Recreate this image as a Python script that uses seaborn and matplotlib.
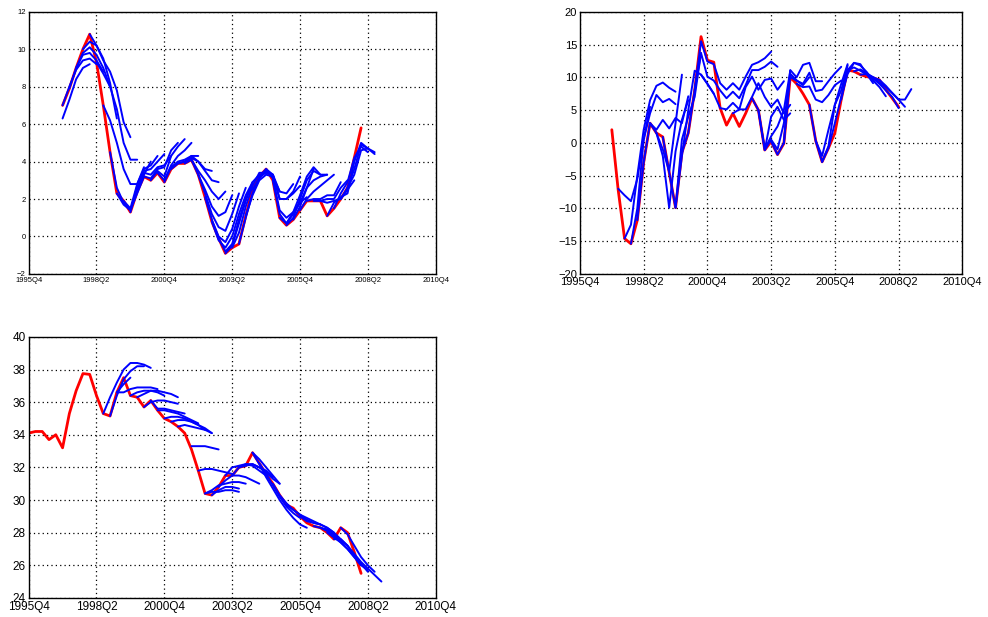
import numpy as np
import pandas as pd
import matplotlib
matplotlib.use("Agg")
import matplotlib.pyplot as plt
import seaborn as sns

# quarter index: 0 = 1995Q4, 10 = 1998Q2, ... 60 = 2010Q4
tick_pos = [0, 10, 20, 30, 40, 50, 60]
tick_labels = ["1995Q4", "1998Q2", "2000Q4", "2003Q2", "2005Q4", "2008Q2", "2010Q4"]

# ---- panel 1 (top left) ----
p1_start = 5
p1_actual = [7.0, 7.9, 9.0, 10.0, 10.8, 9.3, 7.0, 4.5, 2.3, 1.9, 1.3, 2.4, 3.2, 3.0, 3.4,
             2.9, 3.6, 3.9, 3.9, 4.1, 3.3, 2.1, 0.8, -0.1, -0.9, -0.6, -0.4, 1.1, 2.5, 3.2,
             3.6, 3.0, 1.0, 0.6, 0.9, 1.4, 1.9, 1.9, 1.9, 1.1, 1.5, 2.0, 2.6, 4.2, 5.8]
p1_fc = [
    (5, [6.3, 7.3, 8.4, 9.0, 9.2]),
    (5, [7.0, 8.0, 8.9, 9.4, 9.5, 9.2]),
    (6, [7.9, 9.0, 9.7, 9.8, 9.4, 8.8]),
    (7, [9.0, 9.8, 10.1, 9.7, 9.0, 8.0]),
    (8, [10.0, 10.4, 10.2, 9.5, 8.2, 6.3]),
    (9, [10.8, 10.2, 9.4, 8.8, 7.8, 6.1, 5.3]),
    (10, [9.3, 8.7, 8.0, 6.8, 5.0, 4.1, 4.1]),
    (11, [7.0, 6.2, 5.0, 3.6, 2.8, 2.8, 3.7]),
    (12, [4.5, 2.6, 1.8, 1.4, 2.3, 3.2]),
    (13, [2.3, 1.7, 1.4, 2.6, 3.3, 4.0]),
    (14, [1.9, 1.5, 2.8, 3.6, 3.8, 4.3]),
    (15, [1.3, 2.7, 3.5, 3.6, 4.0, 4.4]),
    (16, [2.4, 3.4, 3.3, 3.7, 3.8, 4.3]),
    (17, [3.2, 3.1, 3.6, 3.7, 4.6, 5.0]),
    (18, [3.0, 3.5, 3.2, 4.3, 4.8, 5.2]),
    (19, [3.4, 3.0, 3.8, 4.3, 4.6, 5.0]),
    (20, [2.9, 3.7, 4.0, 4.1, 4.3, 4.3]),
    (21, [3.6, 3.9, 4.0, 4.3, 4.0, 3.6, 3.5]),
    (22, [3.9, 4.0, 4.2, 4.0, 3.5, 3.0, 2.9]),
    (23, [3.9, 4.1, 3.5, 3.0, 2.4, 2.0, 2.4]),
    (24, [4.1, 3.3, 2.5, 1.6, 1.1, 1.3, 2.2]),
    (25, [3.3, 2.3, 1.2, 0.5, 0.3, 1.2, 2.3]),
    (26, [2.1, 0.9, 0.0, -0.3, 0.4, 1.6, 2.6]),
    (27, [0.8, -0.2, -0.6, 0.0, 1.2, 2.2, 2.9]),
    (28, [-0.1, -0.8, -0.4, 0.9, 2.0, 2.8]),
    (29, [-0.9, -0.5, 0.7, 1.9, 2.9, 3.3]),
    (30, [-0.6, 0.2, 1.6, 2.7, 3.4, 3.4]),
    (31, [-0.4, 1.0, 2.3, 3.2, 3.4, 3.3, 2.4]),
    (32, [1.1, 2.2, 3.0, 3.3, 3.2, 2.4, 2.3, 2.8]),
    (33, [2.5, 3.1, 3.5, 3.3, 2.0, 2.0, 2.4, 3.2]),
    (34, [3.2, 3.6, 3.3, 2.0, 2.0, 2.3, 2.7]),
    (35, [3.6, 3.1, 1.4, 1.0, 1.3, 1.8, 2.1]),
    (36, [3.0, 1.2, 0.7, 1.2, 1.8, 2.6, 3.6]),
    (37, [1.0, 0.7, 1.3, 2.2, 3.2, 3.7, 3.3]),
    (38, [0.6, 1.0, 2.0, 3.0, 3.5, 3.3, 3.3]),
    (39, [0.9, 1.6, 2.6, 3.0, 3.2, 3.3]),
    (40, [1.4, 2.0, 2.4, 2.7, 3.0, 3.3]),
    (41, [1.9, 2.0, 2.0, 2.2, 2.2, 2.9]),
    (42, [1.9, 1.9, 2.0, 2.0, 2.6, 3.0]),
    (43, [1.9, 1.8, 1.9, 2.0, 2.5, 3.0]),
    (44, [1.1, 1.8, 2.1, 2.3, 4.0, 5.0, 4.7]),
    (45, [1.5, 2.3, 2.9, 4.2, 4.8, 4.5]),
    (46, [2.0, 2.6, 3.6, 4.9, 4.7, 4.4]),
    (47, [2.6, 3.3, 4.6, 4.7, 4.5]),
]

# ---- panel 2 (top right) ----
p2_start = 5
p2_actual = [2.0, -7.2, -14.6, -15.4, -11.8, -3.0, 3.0, 1.5, 0.9, -4.5, -9.9, -1.5, 1.5,
             8.0, 16.2, 12.6, 12.3, 5.3, 2.7, 4.5, 2.5, 4.5, 6.8, 5.0, -1.1, 0.2, -1.8,
             -0.1, 10.0, 9.0, 7.5, 5.8, 0.3, -2.9, -0.8, 1.5, 6.6, 11.1, 10.9, 10.4, 10.1,
             9.9, 9.6, 8.1, 6.8, 5.5]
p2_fc = [
    (6, [-7.0, -8.0, -8.9, -5.5, 0.5, 5.5]),
    (7, [-14.6, -12.5, -5.0, 2.0, 6.5, 8.7, 9.2, 8.4, 7.8]),
    (8, [-15.4, -10.0, 0.5, 4.5, 7.3, 6.2, 6.7, 5.9]),
    (9, [-11.8, -3.0, 3.0, 2.0, 3.5, 2.2, 3.8, 3.0, 7.1]),
    (11, [3.0, 1.5, -1.0, -4.4, 3.0, 10.4]),
    (12, [1.5, -2.0, -9.9, -1.3, 3.5, 6.5]),
    (13, [0.9, -4.5, -9.9, 0.5, 4.0, 7.0, 13.7]),
    (15, [-9.9, -2.0, 5.0, 11.0, 10.4, 9.0, 7.5]),
    (16, [-1.5, 1.5, 8.0, 15.5, 12.4, 12.0, 9.1, 8.1, 9.1, 8.1, 10.1, 11.9, 12.3, 12.9, 13.9]),
    (18, [8.0, 13.7, 10.1, 9.5, 8.0, 6.8, 7.8, 6.8, 8.8, 11.1, 11.1, 11.6, 12.4, 11.6]),
    (19, [10.4, 9.0, 7.5, 5.3, 5.1, 6.1, 5.1, 8.5, 10.1, 8.1, 9.6, 9.8, 8.1, 9.4]),
    (24, [4.5, 5.1, 5.1, 7.0, 9.1, 7.0, 5.5, 6.6, 4.5, 5.8]),
    (27, [6.8, 5.0, -1.1, 4.0, 5.5, 3.5, 4.5]),
    (28, [5.0, -1.0, 1.0, 2.5, 5.0, 11.0]),
    (29, [-1.1, 0.5, -1.0, 3.0, 10.5, 9.5]),
    (30, [0.2, -1.8, 0.0, 10.5, 9.5, 8.8, 10.0]),
    (32, [-0.1, 11.1, 10.0, 11.9, 12.2, 9.4, 9.4]),
    (33, [10.0, 9.5, 9.0, 10.7, 7.9, 8.1, 9.4, 10.6, 11.6]),
    (34, [9.0, 8.5, 8.6, 6.6, 6.2, 7.3, 8.8, 9.5]),
    (36, [5.8, 0.3, -2.0, 2.0, 5.8, 8.0, 11.8]),
    (37, [0.3, -2.9, -0.5, 5.8, 9.0, 12.0]),
    (38, [-2.9, -0.8, 3.0, 7.0, 10.5, 12.2, 12.0, 10.5, 9.1]),
    (41, [6.6, 11.1, 12.2, 11.8, 10.8, 9.5, 8.5, 7.1]),
    (42, [11.1, 11.5, 11.0, 10.4, 9.8, 9.0, 8.0, 7.0, 5.3]),
    (43, [10.9, 11.2, 10.6, 10.0, 9.6, 8.7, 7.6, 6.6, 5.5]),
    (44, [10.4, 10.5, 10.0, 9.2, 8.5, 7.6, 6.6, 6.6, 8.2]),
]

# ---- panel 3 (bottom left) ----
p3_start = 0
p3_actual = [34.1, 34.2, 34.2, 33.7, 34.0, 33.2, 35.3, 36.7, 37.75, 37.7, 36.4, 35.3, 35.15,
             36.6, 37.5, 36.4, 36.3, 35.7, 36.1, 35.5, 35.0, 34.8, 34.5, 34.1, 33.1, 31.8,
             30.4, 30.3, 30.8, 31.5, 31.5, 32.0, 32.1, 32.9, 32.25, 31.6, 31.0, 30.3, 29.7,
             29.5, 29.0, 28.6, 28.4, 28.3, 28.0, 27.6, 28.3, 28.0, 26.8, 25.5]
p3_fc = [
    (11, [35.3, 36.3, 37.2, 38.0, 38.4, 38.4, 38.3, 38.1]),
    (12, [35.15, 36.4, 37.4, 37.9, 38.2, 38.2]),
    (13, [36.6, 37.1, 37.5]),
    (13, [36.6, 36.6, 36.8, 36.9, 36.9, 36.9, 36.8]),
    (15, [36.4, 36.6, 36.7, 36.7, 36.6, 36.4]),
    (16, [36.3, 36.5, 36.7, 36.7, 36.6, 36.5, 36.3]),
    (17, [35.7, 36.0, 36.1, 36.1, 36.0, 35.9]),
    (18, [36.1, 35.6, 35.6, 35.5, 35.4, 35.3]),
    (19, [35.5, 35.5, 35.4, 35.3, 35.1, 34.9, 34.7]),
    (20, [35.0, 35.1, 35.1, 35.0, 34.8, 34.6, 34.3]),
    (21, [34.8, 34.9, 34.9, 34.8, 34.6, 34.4, 34.1]),
    (22, [34.5, 34.6, 34.5, 34.4, 34.3, 34.1]),
    (24, [33.3, 33.3, 33.3, 33.2, 33.1]),
    (25, [31.8, 31.9, 31.9, 31.8, 31.7, 31.6]),
    (26, [30.4, 30.6, 30.9, 31.0, 31.1, 31.1, 31.0]),
    (26, [30.4, 30.5, 30.5, 30.6, 30.6, 30.5]),
    (27, [30.3, 30.6, 30.8, 30.8, 30.7]),
    (28, [30.8, 31.2, 31.5, 31.5, 31.4, 31.2, 31.0]),
    (29, [31.5, 32.0, 32.1, 32.2, 32.1, 31.8, 31.5]),
    (30, [31.5, 32.0, 32.2, 32.2, 32.0, 31.8, 31.4]),
    (31, [32.0, 32.1, 32.2, 32.0, 31.7, 31.3, 31.0]),
    (33, [32.9, 32.5, 32.0, 31.5, 31.0]),
    (33, [32.9, 32.2, 31.4, 30.7, 30.0, 29.4, 28.9, 28.5, 28.3]),
    (34, [32.25, 31.6, 30.9, 30.2, 29.6, 29.2, 28.9]),
    (36, [31.0, 30.3, 29.8, 29.4, 29.1, 28.9, 28.7, 28.5]),
    (38, [29.7, 29.4, 29.1, 28.8, 28.6, 28.5, 28.3, 28.0]),
    (40, [29.0, 28.7, 28.6, 28.5, 28.3, 28.0, 27.6, 27.2]),
    (42, [28.4, 28.3, 28.1, 27.8, 27.4, 27.0, 26.5, 26.0]),
    (43, [28.3, 28.2, 27.9, 27.5, 27.2, 26.6, 26.1, 25.6]),
    (44, [28.0, 27.7, 27.4, 27.0, 26.5, 26.0, 25.7]),
    (45, [27.6, 27.6, 27.2, 26.7, 26.2, 25.8, 25.4, 25.0]),
    (46, [28.3, 27.9, 27.2, 26.5, 26.0, 25.6]),
]


def fc_frame(fc):
    # long table: one row per forecast point, vint = which forecast line
    rows = []
    for k, (s, vals) in enumerate(fc):
        for j, v in enumerate(vals):
            rows.append({"vint": k, "q": s + j, "val": v})
    return pd.DataFrame(rows)


def draw(ax, start, actual, fc, ylim, yticks, fs):
    act = pd.DataFrame({"q": np.arange(start, start + len(actual)), "val": actual})
    sns.lineplot(data=act, x="q", y="val", color="#ff0000", lw=2.0, ax=ax, zorder=2)
    sns.lineplot(data=fc_frame(fc), x="q", y="val", units="vint", estimator=None,
                 color="#0000ff", lw=1.4, ax=ax, zorder=3)
    ax.set_xlim(0, 60)
    ax.set_ylim(*ylim)
    ax.set_xticks(tick_pos)
    ax.set_xticklabels(tick_labels)
    ax.set_yticks(yticks)
    ax.set_xlabel("")
    ax.set_ylabel("")
    ax.grid(True, color="black", linestyle=(0, (1, 2.5)), linewidth=0.9)
    ax.tick_params(direction="in", length=3, labelsize=fs, pad=2, colors="black")
    for sp in ax.spines.values():
        sp.set_color("black")
        sp.set_linewidth(1.0)


sns.set_style("white")
plt.rcParams["font.family"] = ["Liberation Sans", "DejaVu Sans"]

fig = plt.figure(figsize=(9.88, 6.17), dpi=100)
ax1 = fig.add_axes([0.029, 0.556, 0.412, 0.425])
ax2 = fig.add_axes([0.587, 0.556, 0.387, 0.425])
ax3 = fig.add_axes([0.029, 0.031, 0.412, 0.423])

draw(ax1, p1_start, p1_actual, p1_fc, (-2, 12), range(-2, 13, 2), 5.5)
draw(ax2, p2_start, p2_actual, p2_fc, (-20, 20), range(-20, 21, 5), 8)
draw(ax3, p3_start, p3_actual, p3_fc, (24, 40), range(24, 41, 2), 8.5)

fig.savefig("out.png", dpi=100)
